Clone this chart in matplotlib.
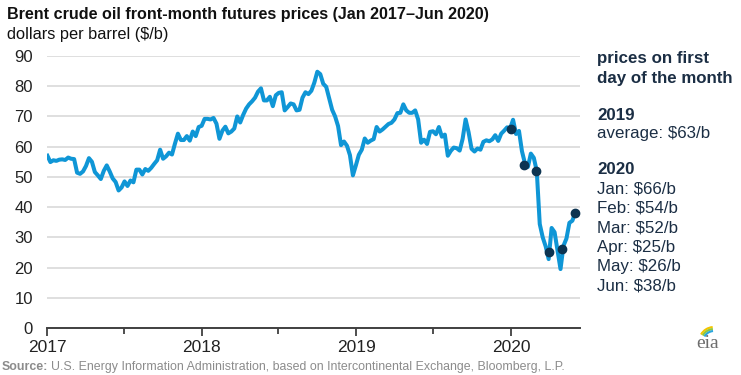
import matplotlib

matplotlib.use("Agg")
import matplotlib.pyplot as plt
import matplotlib.dates as mdates
from matplotlib.patches import Arc
import numpy as np
import pandas as pd

# weekly (Monday) Brent front-month prices, $/b
prices_2017 = [57.0, 54.9, 55.5, 55.3, 55.7,
               55.8, 55.6, 56.4, 56.0,
               55.9, 51.4, 51.0, 51.8,
               53.6, 56.2, 55.0, 51.6,
               50.5, 49.3, 52.0, 53.8, 51.8,
               49.5, 48.3, 45.5, 46.5,
               48.5, 47.0, 48.8, 48.2, 52.4,
               52.4, 50.8, 52.6, 52.0,
               53.0, 54.3, 55.5, 59.0,
               56.0, 56.8, 58.0, 57.4, 61.0,
               64.3, 62.2, 62.2, 63.5,
               62.0, 65.0, 63.5, 66.5]
prices_2018 = [66.9, 69.2, 69.2, 69.0, 69.5,
               67.6, 62.6, 65.3, 66.6,
               64.4, 65.0, 66.0, 70.0,
               68.0, 70.5, 72.6, 74.0, 75.0,
               76.2, 78.2, 79.3, 75.3,
               75.3, 76.5, 73.4, 77.0,
               77.8, 78.0, 72.0, 73.1, 74.3,
               74.0, 72.0, 72.2, 76.2,
               78.0, 77.4, 78.5, 81.2,
               84.8, 84.0, 80.8, 79.8, 76.0,
               72.2, 70.0, 66.8, 60.5,
               61.7, 60.3, 57.2, 50.5, 53.8]
prices_2019 = [57.3, 59.0, 62.7, 61.3,
               62.0, 62.5, 66.5, 65.0,
               65.7, 66.6, 67.5, 67.9,
               69.0, 71.1, 71.2, 74.0, 72.0,
               71.2, 71.2, 72.0, 69.0,
               61.3, 62.3, 60.9, 64.9,
               65.1, 64.1, 66.5, 63.3, 64.0,
               57.0, 58.6, 59.7, 59.5,
               58.7, 62.6, 69.0, 64.8, 59.3,
               58.4, 59.4, 59.0, 61.6,
               62.1, 61.8, 62.4, 63.8,
               61.9, 64.3, 65.3, 66.4, 66.0]
prices_2020 = [68.9, 64.2, 65.2, 58.5,
               54.5, 53.3, 57.7, 56.3,
               51.9, 34.4, 30.0, 27.0, 22.8,
               33.1, 31.7, 25.6, 19.5,
               27.2, 29.6, 34.8, 35.5,
               38.3]

# first-of-month prices highlighted with dots
dot_dates = ["2020-01-01", "2020-02-01", "2020-03-01", "2020-04-01", "2020-05-01", "2020-06-01"]
dot_prices = [66, 54, 52, 25, 26, 38]
dot_labels = ["Jan", "Feb", "Mar", "Apr", "May", "Jun"]
avg_2019 = 63

prices = prices_2017 + prices_2018 + prices_2019 + prices_2020
dates = pd.date_range("2017-01-02", periods=len(prices), freq="W-MON")

BLUE = "#0f96d6"
NAVY = "#0d3451"
TXT = "#1b2e44"
FNT = ["Liberation Sans", "DejaVu Sans"]

fig = plt.figure(figsize=(7.41, 3.75), dpi=100)
ax = fig.add_axes([47 / 741, 1 - 328 / 375, 533 / 741, 272 / 375])

ax.plot(dates, prices, color=BLUE, lw=2.9, solid_joinstyle="round", zorder=3)
ax.plot(pd.to_datetime(dot_dates), dot_prices, "o", color=NAVY, ms=6, zorder=4)

ax.set_xlim(pd.Timestamp("2017-01-01"), pd.Timestamp("2020-06-12"))
ax.set_ylim(0, 90)
ax.set_yticks(np.arange(0, 91, 10))
ax.yaxis.grid(True, color="#d9d9d9", lw=1.2)
ax.set_axisbelow(True)
for s in ["top", "right", "left"]:
    ax.spines[s].set_visible(False)
ax.spines["bottom"].set_color("#404040")
ax.spines["bottom"].set_linewidth(1.4)
ax.spines["bottom"].set_zorder(5)

ax.xaxis.set_major_locator(mdates.YearLocator())
ax.xaxis.set_major_formatter(mdates.DateFormatter("%Y"))
ax.xaxis.set_minor_locator(mdates.MonthLocator(bymonth=7))
ax.tick_params(axis="x", which="major", length=6, width=1.3, color="#404040",
               labelsize=12.5, labelcolor="#222222", pad=3)
ax.tick_params(axis="x", which="minor", length=4, width=1.3, color="#404040")
ax.tick_params(axis="y", length=0, labelsize=12, labelcolor="#222222", pad=10)
for lab in ax.get_xticklabels() + ax.get_yticklabels():
    lab.set_family(FNT)

# titles
fig.text(7 / 741, 1 - 14 / 375, "Brent crude oil front-month futures prices (Jan 2017\u2013Jun 2020)",
         fontsize=11.6, fontweight="bold", color="#111111", va="center", family=FNT)
fig.text(7 / 741, 1 - 35 / 375, "dollars per barrel ($/b)", fontsize=11.8, color="#111111",
         va="center", family=FNT)

# right-hand annotation
tx = 597 / 741
fs = 12.2
fig.text(tx, 1 - 59 / 375, "prices on first", fontsize=fs, fontweight="bold", color=TXT,
         va="center", family=FNT)
fig.text(tx, 1 - 79 / 375, "day of the month", fontsize=fs, fontweight="bold", color=TXT,
         va="center", family=FNT)
fig.text(tx, 1 - 115 / 375, "2019", fontsize=fs, fontweight="bold", color=TXT, va="center", family=FNT)
fig.text(tx, 1 - 134 / 375, f"average: ${avg_2019}/b", fontsize=fs, color=TXT, va="center", family=FNT)
fig.text(tx, 1 - 170 / 375, "2020", fontsize=fs, fontweight="bold", color=TXT, va="center", family=FNT)
for i, (m, p) in enumerate(zip(dot_labels, dot_prices)):
    fig.text(tx, 1 - (189 + 19.4 * i) / 375, f"{m}: ${p}/b", fontsize=fs, color=TXT,
             va="center", family=FNT)

# source line
t1 = fig.text(2 / 741, 1 - 367 / 375, "Source:", fontsize=8.9, fontweight="bold", color="#8c8c8c",
              va="center", family=FNT)
fig.canvas.draw()
bb = t1.get_window_extent()
fig.text((bb.x1 + 3) / 741, 1 - 367 / 375,
         "U.S. Energy Information Administration, based on Intercontinental Exchange, Bloomberg, L.P.",
         fontsize=8.9, color="#8c8c8c", va="center", family=FNT)

# eia logo
fig.text(708 / 741, 1 - 343 / 375, "eia", fontsize=14, color="#6d6d6d", ha="center", va="center",
         family=["Liberation Serif", "DejaVu Serif"])
lax = fig.add_axes([695 / 741, 1 - 345 / 375, 30 / 741, 22 / 375])
lax.set_xlim(0, 30)
lax.set_ylim(0, 22)
lax.axis("off")
for r, c in [(15, "#f2c500"), (13, "#8cc63f"), (11, "#2aa6dd")]:
    lax.add_patch(Arc((19, 3), 2 * r, 2 * r, theta1=95, theta2=150, color=c, lw=1.5))

fig.savefig("out.png", dpi=100)
